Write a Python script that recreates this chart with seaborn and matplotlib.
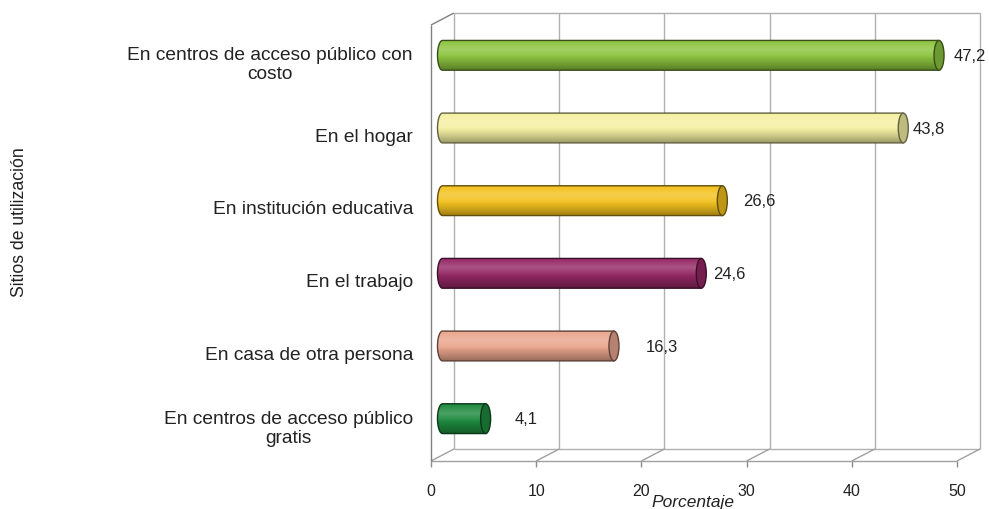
import numpy as np
import matplotlib
matplotlib.use("Agg")
import matplotlib.pyplot as plt
from matplotlib.patches import Ellipse, PathPatch
from matplotlib.path import Path
from matplotlib.colors import to_rgb
import seaborn as sns

# Sitios de utilización de internet y porcentaje de usuarios
sitios = [
    "En centros de acceso público con\ncosto",
    "En el hogar",
    "En institución educativa",
    "En el trabajo",
    "En casa de otra persona",
    "En centros de acceso público\ngratis",
]
porcentajes = [47.2, 43.8, 26.6, 24.6, 16.3, 4.1]
colores = ["#8cc43f", "#f4f0a2", "#f3c21f", "#952865", "#eaa68e", "#1e8a3e"]
ticks_x = [0, 10, 20, 30, 40, 50]

# extra horizontal gap (pixels) between each cylinder end and its value label
label_gap_px = [10, 4, 16, 7, 27, 24]

sns.set_style("white")
plt.rcParams["font.family"] = ["Liberation Sans", "DejaVu Sans"]
TEXT = "#222222"

W, H = 989, 510
fig = plt.figure(figsize=(W / 100, H / 100), dpi=100)
# front plane of the 3-D box, in pixels
left_px, right_px, top_px, bottom_px = 431, 957, 26, 462
ax = fig.add_axes([left_px / W, (H - bottom_px) / H,
                   (right_px - left_px) / W, (bottom_px - top_px) / H])

sns.barplot(x=porcentajes, y=sitios, hue=sitios, palette=colores, orient="h",
            width=0.41, saturation=1, legend=False, ax=ax)

XMIN, XMAX = 0, 50
YTOP, YBOT = -0.5, len(sitios) - 0.5
ax.set_xlim(XMIN, XMAX)
ax.set_ylim(YBOT, YTOP)

# depth of the box, converted from pixels to data units
px_x = (XMAX - XMIN) / (right_px - left_px)
px_y = (YBOT - YTOP) / (bottom_px - top_px)
DX, DY = 23 * px_x, 12 * px_y

grid_c, wall_c, floor_c = "#b0b0b0", "#808080", "#a0a0a0"
kw = dict(clip_on=False, lw=1.0, solid_capstyle="butt")

# back wall: outline and vertical gridlines
for t in ticks_x:
    ax.plot([t + DX, t + DX], [YBOT - DY, YTOP - DY], color=grid_c, zorder=0.5, **kw)
ax.plot([XMIN + DX, XMAX + DX], [YTOP - DY, YTOP - DY], color=grid_c, zorder=0.5, **kw)
ax.plot([XMIN + DX, XMAX + DX], [YBOT - DY, YBOT - DY], color=grid_c, zorder=0.5, **kw)

# floor: front edge and depth lines at every tick
ax.plot([XMIN, XMAX], [YBOT, YBOT], color=floor_c, zorder=0.6, **kw)
for t in ticks_x:
    ax.plot([t, t + DX], [YBOT, YBOT - DY], color=floor_c, zorder=0.6, **kw)

# left side wall
ax.plot([XMIN, XMIN], [YBOT, YTOP], color=wall_c, zorder=0.7, **kw)
ax.plot([XMIN, XMIN + DX], [YTOP, YTOP - DY], color=wall_c, zorder=0.7, **kw)


def mix(c, other, amt):
    c = np.array(to_rgb(c))
    return tuple(c * (1 - amt) + np.array(other) * amt)


def shade_column(c, n=64):
    rows = []
    for t in np.linspace(0, 1, n):
        light = max(0.0, 0.2 * (1 - abs(t - 0.3) / 0.3)) if t < 0.6 else 0.0
        dark = 0.36 * max(0.0, (t - 0.5) / 0.5) ** 1.2
        col = mix(c, (1, 1, 1), light)
        col = mix(col, (0, 0, 0), dark)
        rows.append(col)
    return np.array(rows)[:, None, :]


cap_a = 5 * px_x  # half width of the end ellipses
bars = [p for p in ax.patches][: len(porcentajes)]
for p, val, col, gap in zip(bars, porcentajes, colores, label_gap_px):
    x0, y0, w, h = p.get_x(), p.get_y(), p.get_width(), p.get_height()
    xs, ys = x0 + DX / 2, y0 - DY / 2
    yc = ys + h / 2
    p.set_x(xs)
    p.set_y(ys)
    p.set_edgecolor("none")
    p.set_zorder(2)

    edge = mix(col, (0, 0, 0), 0.6)
    th = np.linspace(np.pi / 2, 3 * np.pi / 2, 40)
    verts = [(xs, ys), (xs + w, ys), (xs + w, ys + h), (xs, ys + h)]
    verts += [(xs + cap_a * np.cos(a), yc + h / 2 * np.sin(a)) for a in th]
    verts.append(verts[0])
    codes = [Path.MOVETO] + [Path.LINETO] * (len(verts) - 2) + [Path.CLOSEPOLY]
    body = PathPatch(Path(verts, codes), fc="none", ec=edge, lw=1.0, zorder=4)
    ax.add_patch(body)

    img = ax.imshow(shade_column(col), extent=[xs - cap_a, xs + w, ys + h, ys],
                    aspect="auto", interpolation="bilinear", zorder=3, origin="upper")
    img.set_clip_path(body)

    cap = Ellipse((xs + w, yc), 2 * cap_a, h, fc=mix(col, (0, 0, 0), 0.22),
                  ec=edge, lw=1.0, zorder=5)
    ax.add_patch(cap)

    ax.annotate(f"{val:.1f}".replace(".", ","), xy=(xs + w + cap_a, yc),
                xytext=(gap * 0.72, 0), textcoords="offset points",
                ha="left", va="center", fontsize=12, color=TEXT, zorder=6)

ax.set_xlim(XMIN, XMAX)
ax.set_ylim(YBOT, YTOP)
ax.set_xticks(ticks_x)
ax.set_xticklabels([str(t) for t in ticks_x])
for s in ax.spines.values():
    s.set_visible(False)
ax.tick_params(axis="x", length=6 * 0.72, width=1, color="#8c8c8c", pad=11.5,
               labelsize=11.5, labelcolor=TEXT, bottom=True)
ax.tick_params(axis="y", length=0, pad=13, labelsize=13.8, labelcolor=TEXT)
for t in ax.get_yticklabels():
    t.set_multialignment("center")
    t.set_linespacing(1.15)
ax.set_xlabel("")
ax.set_ylabel("")
ax.grid(False)
ax.set_facecolor("none")

fig.text(693 / W, 1 - 503 / H, "Porcentaje", ha="center", va="center",
         fontsize=12.5, style="italic", color=TEXT)
fig.text(20 / W, 1 - 222 / H, "Sitios de utilización", ha="center", va="center",
         rotation=90, fontsize=12.7, color=TEXT)

fig.savefig("out.png", dpi=100)
